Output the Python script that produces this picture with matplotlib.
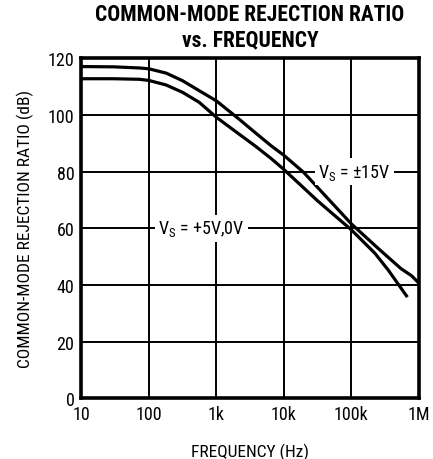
import numpy as np
import matplotlib
matplotlib.use("Agg")
import matplotlib.pyplot as plt

plt.rcParams['font.family'] = ['Roboto Condensed', 'Archivo Narrow', 'DejaVu Sans']

# +-15V supply curve
freq_15 = [10, 30, 73, 100, 180, 316, 556, 1000, 2160, 3800, 6600, 10000,
           19600, 100000, 251000, 550000, 780000, 1000000]
cmrr_15 = [117.1, 117.0, 116.6, 116.3, 114.8, 112.1, 108.6, 105.0, 98.6, 93.7,
           89.0, 85.8, 79.8, 61.6, 52.9, 45.7, 43.3, 40.7]

# +5V,0V supply curve
freq_5 = [10, 30, 73, 100, 180, 316, 556, 1000, 2160, 3800, 6600, 10000,
          32000, 100000, 224000, 355000, 680000]
cmrr_5 = [112.8, 112.8, 112.6, 112.2, 110.6, 108.0, 104.5, 99.2, 93.3, 89.0,
          84.5, 80.8, 69.6, 59.5, 51.2, 45.2, 35.7]

xticks = [10, 100, 1000, 10000, 100000, 1000000]
xtick_labels = ['10', '100', '1k', '10k', '100k', '1M']
yticks = [0, 20, 40, 60, 80, 100, 120]

fig = plt.figure(figsize=(4.33, 4.6), dpi=100)
ax = fig.add_axes([0.188, 0.132, 0.779, 0.739])

ax.plot(freq_15, cmrr_15, color='black', lw=2.3, solid_capstyle='butt', zorder=3)
ax.plot(freq_5, cmrr_5, color='black', lw=2.3, solid_capstyle='butt', zorder=3)

ax.set_xscale('log')
ax.set_xlim(10, 1e6)
ax.set_ylim(0, 120)
ax.set_xticks(xticks)
ax.set_xticklabels(xtick_labels)
ax.set_yticks(yticks)
ax.minorticks_off()
ax.tick_params(length=0, labelsize=13, pad=5)
ax.grid(True, color='black', lw=1.4)
for s in ax.spines.values():
    s.set_linewidth(2.6)

lbl = dict(fontsize=13, ha='center', va='center', zorder=4,
           bbox=dict(facecolor='white', edgecolor='none', pad=2.5))
ax.text(111000, 80, 'V$_\\mathregular{S}$ = ±15V', **lbl)
ax.text(600, 60, 'V$_\\mathregular{S}$ = +5V,0V', **lbl)

ax.set_xlabel('FREQUENCY (Hz)', fontsize=12.5, labelpad=14)
ax.set_ylabel('COMMON-MODE REJECTION RATIO (dB)', fontsize=12.5, labelpad=10)
ax.set_title('COMMON-MODE REJECTION RATIO\nvs. FREQUENCY', fontsize=15.5,
             fontweight='bold', linespacing=1.2, pad=9)

fig.savefig('out.png', dpi=100)
